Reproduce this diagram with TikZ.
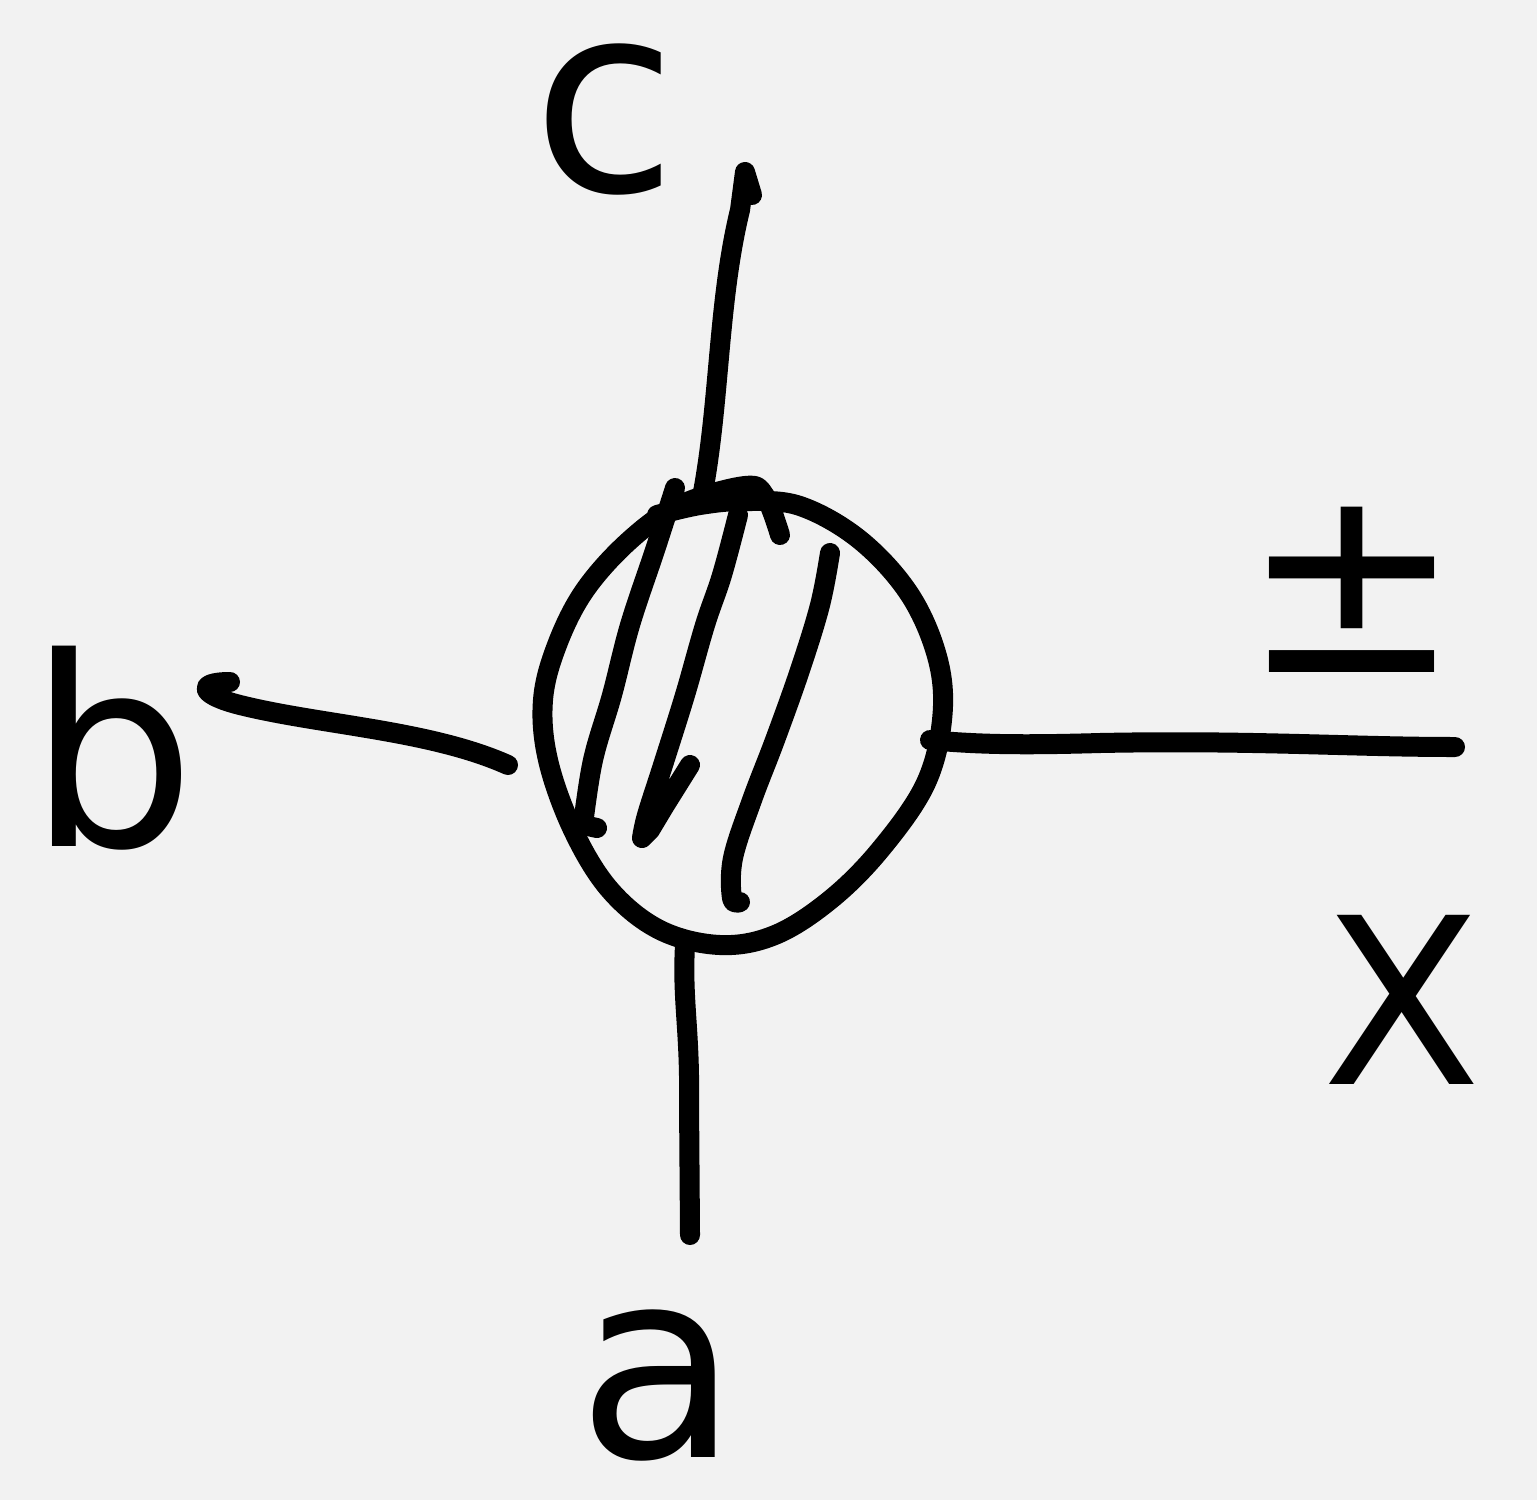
\documentclass[tikz,border=0pt]{standalone}
\usepackage{fontspec}
\setmainfont{DejaVu Sans}
\begin{document}
\begin{tikzpicture}[x=0.01cm,y=-0.01cm,
  pen/.style={draw=black, line width=0.2cm, line cap=round, line join=round},
  lbl/.style={font=\fontsize{75}{75}\selectfont, text=black, inner sep=3pt}]
\fill[fill={rgb,255:red,242;green,242;blue,242}] (0,0) rectangle (1537,1500);
\useasboundingbox (0,0) rectangle (1537,1500);
% blob / circle
\draw[pen] plot[smooth, tension=0.6] coordinates {(657,515) (700,505) (745,501) (800,506) (860,540) (910,595) (938,660) (942,720) (925,785) (880,850) (830,900) (775,935) (720,945) (660,930) (610,890) (573,830) (548,760) (543,700) (557,645) (585,590) (630,540) (680,505) (745,486) (765,496) (780,535)};
% hatching
\draw[pen] plot[smooth, tension=0.6] coordinates {(675,488) (655,550) (630,625) (612,695) (593,760) (583,825)} -- (597,828);
\draw[pen] plot[smooth, tension=0.6] coordinates {(738,515) (722,575) (705,625) (685,695) (663,765) (647,815) (642,838)} -- (650,830) -- (665,805) -- (690,765);
\draw[pen] plot[smooth, tension=0.6] coordinates {(830,553) (820,605) (800,670) (775,740) (752,800) (733,858) (732,898) (740,902)};
% leg end points
\coordinate (top) at (703,492);
\coordinate (left) at (508,765);
\coordinate (right) at (930,740);
\coordinate (bot) at (685,945);
\coordinate (ctip) at (745,172);
\coordinate (btip) at (230,682);
\coordinate (rtip) at (1455,747);
\coordinate (atip) at (690,1235);
% legs
\draw[pen] (top) .. controls (720,400) and (718,300) .. (740,210) -- (ctip) -- (752,195);
\draw[pen] (left) .. controls (430,730) and (320,725) .. (240,705) .. controls (200,695) and (195,682) .. (btip);
\draw[pen] (right) .. controls (980,745) and (1030,745) .. (1100,743) .. controls (1250,740) and (1350,747) .. (rtip);
\draw[pen] (bot) .. controls (682,1000) and (690,1030) .. (689,1100) -- (atip);
% labels
\node[lbl] (c) at (605,120) {c};
\node[lbl] (b) at (112,748) {b};
\node[lbl] (a) at (658,1385) {a};
\node[lbl] (pm) at (1352,590) {±};
\node[lbl, font=\fontsize{66}{66}\selectfont] (X) at (1402,1000) {X};
\end{tikzpicture}
\end{document}
